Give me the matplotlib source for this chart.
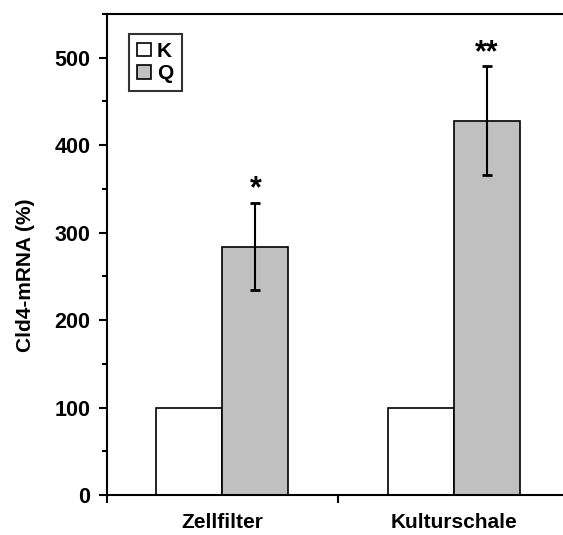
import matplotlib
matplotlib.use("Agg")
import matplotlib.pyplot as plt
import numpy as np
from matplotlib.patches import Patch
from matplotlib.ticker import MultipleLocator

categories = ["Zellfilter", "Kulturschale"]
k_values = [100, 100]
q_values = [284, 428]
q_errors = [50, 62]
stars = ["*", "**"]
series_labels = ["K", "Q"]

plt.rcParams['font.family'] = ['Liberation Sans', 'DejaVu Sans']
plt.rcParams['font.weight'] = 'bold'

W, H = 563, 535
fig = plt.figure(figsize=(W / 100, H / 100), dpi=100)
left, right, bottom, top = 106.5, 569.5, 495, 14
ax = fig.add_axes([left / W, 1 - bottom / H, (right - left) / W, (bottom - top) / H])

x = np.arange(len(categories)) + 0.5
bw = 0.286
ax.bar(x - bw / 2, k_values, bw, color='white', edgecolor='black', linewidth=1.2, zorder=2)
ax.bar(x + bw / 2, q_values, bw, color='#c0c0c0', edgecolor='black', linewidth=1.2, zorder=2)
ax.errorbar(x + bw / 2, q_values, yerr=q_errors, fmt='none', ecolor='black',
            elinewidth=1.5, capsize=3.5, capthick=2, zorder=3)
for xi, v, e, s in zip(x, q_values, q_errors, stars):
    ax.text(xi + bw / 2, v + e + 6, s, ha='center', va='baseline', fontsize=22, fontweight='bold')

ax.set_xlim(0, 2)
ax.set_ylim(0, 550)
ax.set_xticks([0, 1, 2])
ax.set_xticklabels([])
ax.set_xticks(x, minor=True)
ax.set_xticklabels(categories, minor=True, fontsize=15, fontweight='bold')
ax.tick_params(axis='x', which='minor', length=0, pad=13)
ax.tick_params(axis='x', which='major', direction='out', length=5.5, width=1.5)
ax.yaxis.set_major_locator(MultipleLocator(100))
ax.yaxis.set_minor_locator(MultipleLocator(50))
ax.tick_params(axis='y', which='major', direction='out', length=5.5, width=1.5, labelsize=15.5, pad=6)
ax.tick_params(axis='y', which='minor', direction='out', length=3.5, width=1.5)
for lab in ax.get_yticklabels():
    lab.set_fontweight('bold')
ax.set_ylabel("Cld4-mRNA (%)", fontsize=15, fontweight='bold')
ax.yaxis.set_label_coords((35 - left) / (right - left), (bottom - 275) / (bottom - top))

for sp in ['left', 'bottom', 'top']:
    ax.spines[sp].set_linewidth(1.5)
ax.spines['right'].set_visible(False)

handles = [Patch(facecolor='white', edgecolor='black', linewidth=1.2),
           Patch(facecolor='#c0c0c0', edgecolor='black', linewidth=1.2)]
leg = ax.legend(handles, series_labels, loc='upper left',
                bbox_to_anchor=(22.5 / (right - left), 1 - 19.5 / (bottom - top)),
                frameon=True, fancybox=False, edgecolor='black', handlelength=0.65, handleheight=0.65,
                handletextpad=0.3, borderpad=0.4, labelspacing=0.15, prop={'weight': 'bold', 'size': 15},
                borderaxespad=0)
leg.get_frame().set_linewidth(1.5)

fig.savefig("out.png", dpi=100)
